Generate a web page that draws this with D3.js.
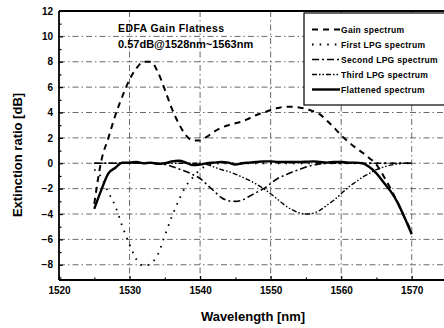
<!DOCTYPE html>
<html>
<head>
<meta charset="utf-8">
<script src="https://cdn.jsdelivr.net/npm/d3@7"></script>
<style>
  body { margin: 0; background: #fff; }
  text { font-family: "Liberation Sans", Arial, sans-serif; }
</style>
</head>
<body>
<div id="chart"></div>
<script>
// Values, one point per nm
const wavelength = [1525, 1526, 1527, 1528, 1529, 1530, 1531, 1532, 1533, 1534,
  1535, 1536, 1537, 1538, 1539, 1540, 1541, 1542, 1543, 1544,
  1545, 1546, 1547, 1548, 1549, 1550, 1551, 1552, 1553, 1554,
  1555, 1556, 1557, 1558, 1559, 1560, 1561, 1562, 1563, 1564,
  1565, 1566, 1567, 1568, 1569, 1570];

const gainSpectrum = [-3.2, 0.2, 2.0, 3.8, 5.3, 6.6, 7.5, 8.0, 8.0, 7.2,
  5.8, 4.3, 3.1, 2.2, 1.8, 1.8, 2.1, 2.5, 2.8, 3.0,
  3.15, 3.3, 3.55, 3.8, 4.0, 4.2, 4.35, 4.45, 4.45, 4.4,
  4.3, 4.1, 3.85, 3.35, 2.8, 2.2, 1.7, 1.25, 0.85, 0.4,
  -0.1, -1.0, -2.0, -3.1, -4.3, -5.4];

const firstLpg = [-0.5, -1.1, -2.3, -3.4, -5.0, -6.4, -7.6, -8.1, -7.9, -7.2,
  -5.7, -4.2, -2.9, -1.8, -1.1, -0.5, -0.2, -0.05, 0, 0,
  0, 0, 0, 0, 0, 0, 0, 0, 0, 0,
  0, 0, 0, 0, 0, 0, 0, 0, 0, 0,
  0, 0, 0, 0, 0, 0];

const secondLpg = [0, 0, 0, 0, 0, 0, 0, 0, 0, 0,
  -0.1, -0.25, -0.45, -0.65, -0.9, -1.2, -1.7, -2.2, -2.7, -2.95,
  -3.0, -2.9, -2.6, -2.3, -2.0, -1.6, -1.2, -0.95, -0.7, -0.5,
  -0.3, -0.15, -0.05, 0, 0, 0, 0, 0, 0, 0,
  0, 0, 0, 0, 0, 0];

const thirdLpg = [0, 0, 0, 0, 0, 0, 0, 0, 0, 0,
  0, 0, 0, 0, 0, 0, -0.1, -0.3, -0.5, -0.65,
  -0.85, -1.1, -1.35, -1.65, -2.0, -2.4, -2.85, -3.3, -3.65, -3.9,
  -4.0, -3.95, -3.7, -3.3, -2.9, -2.4, -1.9, -1.5, -1.1, -0.8,
  -0.5, -0.3, -0.15, -0.05, 0, 0];

const flattened = [-3.6, -2.1, -0.8, -0.35, 0.05, 0.05, 0.1, 0.0, 0.05, -0.05,
  0.0, 0.15, 0.2, 0.05, -0.15, -0.1, 0.0, 0.05, 0.1, 0.05,
  -0.1, 0.0, 0.05, 0.1, 0.15, 0.15, 0.1, 0.1, 0.1, 0.1,
  0.12, 0.15, 0.1, 0.05, 0.1, 0.1, 0.05, 0.05, 0.0, -0.3,
  -0.8, -1.5, -2.2, -3.1, -4.3, -5.6];

const seriesNames = ["Gain spectrum", "First LPG spectrum", "Second LPG spectrum",
  "Third LPG spectrum", "Flattened spectrum"];
const seriesValues = [gainSpectrum, firstLpg, secondLpg, thirdLpg, flattened];

const xTicks = [1520, 1530, 1540, 1550, 1560, 1570];
const yTicks = [-8, -6, -4, -2, 0, 2, 4, 6, 8, 10, 12];

// line looks per series
const dashes = ["6,5", "1.6,6", "7,3,2,3", "5,2,1.5,2,1.5,2", null];
const widths = [2, 1.8, 1.6, 1.4, 2.4];

const W = 444, H = 328;
const svg = d3.select("#chart").append("svg")
  .attr("width", W).attr("height", H);

const xScale = d3.scaleLinear().domain([1520, 1575]).range([59, 447]);
const yScale = d3.scaleLinear().domain([-9.2, 12]).range([280, 11]);

// grid (dash-dot, like the scan)
const grid = svg.append("g").attr("stroke", "#444").attr("stroke-width", 0.8)
  .attr("stroke-dasharray", "6,3,1.5,3").attr("fill", "none");
grid.selectAll(".gx").data(xTicks.slice(1)).enter().append("line")
  .attr("x1", d => xScale(d)).attr("x2", d => xScale(d))
  .attr("y1", yScale(12)).attr("y2", yScale(-9.2));
grid.selectAll(".gy").data(yTicks.filter(d => d < 12)).enter().append("line")
  .attr("x1", xScale(1520)).attr("x2", xScale(1575))
  .attr("y1", d => yScale(d)).attr("y2", d => yScale(d));

// clip for the curves
svg.append("clipPath").attr("id", "plot").append("rect")
  .attr("x", xScale(1520)).attr("y", yScale(12))
  .attr("width", xScale(1575) - xScale(1520))
  .attr("height", yScale(-9.2) - yScale(12));

const line = d3.line()
  .x((d, i) => xScale(wavelength[i]))
  .y(d => yScale(d))
  .curve(d3.curveMonotoneX);

svg.append("g").attr("clip-path", "url(#plot)")
  .selectAll("path").data(seriesValues).enter().append("path")
  .attr("fill", "none")
  .attr("stroke", "#000")
  .attr("stroke-width", (d, i) => widths[i])
  .attr("stroke-dasharray", (d, i) => dashes[i])
  .attr("stroke-linejoin", "round")
  .attr("d", d => line(d));

// Add the X Axis
const xAxis = svg.append("g")
  .attr("transform", `translate(0,${yScale(-9.2)})`)
  .call(d3.axisBottom(xScale).tickValues(xTicks).tickSize(-4).tickPadding(7)
    .tickFormat(d3.format("d")));
xAxis.append("g").call(d3.axisBottom(xScale)
  .tickValues([1525, 1535, 1545, 1555, 1565]).tickSize(-2.5).tickFormat(""));

// Add the Y Axis
const yAxis = svg.append("g")
  .attr("transform", `translate(${xScale(1520)},0)`)
  .call(d3.axisLeft(yScale).tickValues(yTicks).tickSize(-4).tickPadding(6));
yAxis.append("g").call(d3.axisLeft(yScale)
  .tickValues([-9, -7, -5, -3, -1, 1, 3, 5, 7, 9, 11]).tickSize(-2.5).tickFormat(""));

svg.selectAll(".domain").remove();
svg.selectAll(".tick line").attr("stroke", "#000").attr("stroke-width", 1.2);
svg.selectAll(".tick text")
  .style("font-family", "'Liberation Sans', Arial, sans-serif")
  .style("font-size", "10px").style("font-weight", "bold").attr("fill", "#000");

// frame: left, bottom, top
const frame = svg.append("g").attr("stroke", "#000").attr("stroke-width", 1.8);
frame.append("line").attr("x1", xScale(1520)).attr("x2", xScale(1520))
  .attr("y1", yScale(12)).attr("y2", yScale(-9.2));
frame.append("line").attr("x1", xScale(1520)).attr("x2", xScale(1575))
  .attr("y1", yScale(-9.2)).attr("y2", yScale(-9.2));
frame.append("line").attr("x1", xScale(1520)).attr("x2", xScale(1575))
  .attr("y1", yScale(12)).attr("y2", yScale(12));

// axis titles
svg.append("text")
  .attr("x", 253).attr("y", 321).attr("text-anchor", "middle")
  .style("font-size", "13px").style("font-weight", "bold")
  .text("Wavelength [nm]");
svg.append("text")
  .attr("transform", `translate(22,155) rotate(-90)`).attr("text-anchor", "middle")
  .style("font-size", "13px").style("font-weight", "bold")
  .text("Extinction ratio [dB]");

// annotation
svg.append("text").attr("x", 118).attr("y", 32)
  .style("font-size", "10.5px").style("font-weight", "bold")
  .style("letter-spacing", "0.4px")
  .text("EDFA Gain Flatness");
svg.append("text").attr("x", 118).attr("y", 48)
  .style("font-size", "11px").style("font-weight", "bold")
  .text("0.57dB@1528nm~1563nm");

// legend
const legend = svg.append("g");
legend.append("rect").attr("x", 304).attr("y", 13)
  .attr("width", 150).attr("height", 92)
  .attr("fill", "#fff").attr("stroke", "#000").attr("stroke-width", 1.2);

const item = legend.selectAll(".item").data(seriesNames).enter().append("g")
  .attr("transform", (d, i) => `translate(0,${29.5 + i * 15})`);
item.append("line")
  .attr("x1", 312).attr("x2", 340).attr("y1", 0).attr("y2", 0)
  .attr("stroke", "#000")
  .attr("stroke-width", (d, i) => widths[i])
  .attr("stroke-dasharray", (d, i) => dashes[i]);
item.append("text")
  .attr("x", 341).attr("y", 3)
  .style("font-size", "8.5px").style("font-weight", "bold")
  .style("letter-spacing", "0.3px")
  .text(d => d);
</script>
</body>
</html>
